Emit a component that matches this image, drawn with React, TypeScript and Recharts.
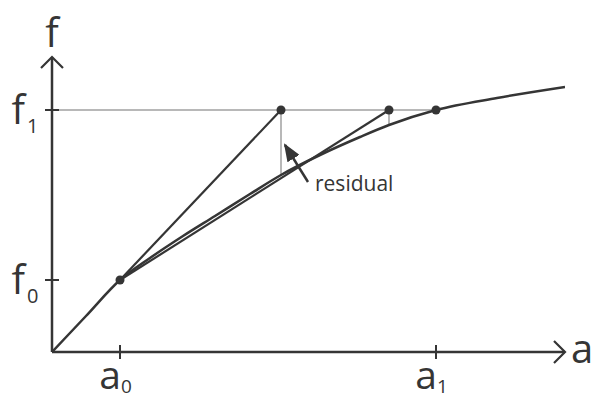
import {
  ComposedChart,
  Line,
  ReferenceDot,
  ReferenceLine,
  Scatter,
  XAxis,
  YAxis,
} from "recharts";

// arbitrary units: a runs 0..5.13, f runs 0..2.95
const X_MAX = 5.13;
const Y_MAX = 2.95;

const a0 = 0.68;
const a1 = 3.84;
const f0 = 0.72;
const f1 = 2.42;

const xTicks = [a0, a1];
const xTickSubs = ["0", "1"];
const yTicks = [f0, f1];
const yTickSubs = ["0", "1"];

const curveA = [0, 0.34, 0.68, 0.98, 1.31, 1.63, 1.98, 2.29, 2.68, 3.08, 3.37, 3.84, 4.45, 5.13];
const curveF = [0, 0.36, 0.72, 0.94, 1.16, 1.36, 1.58, 1.77, 1.97, 2.15, 2.27, 2.42, 2.54, 2.65];

// two secants from (a0, f0) up to the f1 level
const secantEnds = [2.29, 3.37];
const dotsA = [a0, 2.29, 3.37, a1];
const dotsF = [f0, f1, f1, f1];

// residual arrow: tail then tip
const residualTail = { x: 2.56, y: 1.7 };
const residualTip = { x: 2.33, y: 2.07 };
const residualText = { x: 2.63, y: 1.61, label: "residual" };

const curve = curveA.map((a, i) => ({ x: a, y: curveF[i] }));
const dots = dotsA.map((a, i) => ({ x: a, y: dotsF[i] }));
const secants = secantEnds.map((e) => [
  { x: a0, y: f0 },
  { x: e, y: f1 },
]);

const INK = "#353535";
const GRAY = "#b8b8b8";
const FONT = "'Open Sans', sans-serif";

function XTick({ x, y, payload }: any) {
  const i = xTicks.indexOf(payload.value);
  return (
    <g>
      <line x1={x} y1={y - 7} x2={x} y2={y + 7} stroke={INK} strokeWidth={2} />
      <text x={x + 1} y={y + 37} textAnchor="end" fontSize={39} fill={INK} fontFamily={FONT}>
        a
      </text>
      <text x={x + 1} y={y + 41} fontSize={19} fill={INK} fontFamily={FONT}>
        {xTickSubs[i]}
      </text>
    </g>
  );
}

function YTick({ x, y, payload }: any) {
  const i = yTicks.indexOf(payload.value);
  return (
    <g>
      <line x1={x - 7} y1={y} x2={x + 7} y2={y} stroke={INK} strokeWidth={2} />
      <text x={x - 27} y={y + 14} textAnchor="end" fontSize={40} fill={INK} fontFamily={FONT}>
        f
      </text>
      <text x={x - 25} y={y + 23} fontSize={20} fill={INK} fontFamily={FONT}>
        {yTickSubs[i]}
      </text>
    </g>
  );
}

const textAt =
  (text: string, dx: number, dy: number, anchor: string, size: number) =>
  ({ viewBox }: any) => (
    <text
      x={viewBox.x + viewBox.width / 2 + dx}
      y={viewBox.y + viewBox.height / 2 + dy}
      textAnchor={anchor}
      fontSize={size}
      fill={INK}
      fontFamily={FONT}
    >
      {text}
    </text>
  );

export default function App() {
  return (
    <div style={{ position: "absolute", left: 0, top: 0, width: 592, height: 399, background: "#fff" }}>
      <ComposedChart
        width={592}
        height={399}
        margin={{ top: 57, right: 27, bottom: 46, left: 51 }}
      >
        <defs>
          <marker
            id="axisArrow"
            viewBox="0 0 14 24"
            refX={12}
            refY={12}
            markerWidth={14}
            markerHeight={24}
            markerUnits="userSpaceOnUse"
            orient="auto-start-reverse"
          >
            <path d="M1,1 L12,12 L1,23" fill="none" stroke={INK} strokeWidth={2.2} />
          </marker>
          <marker
            id="headFill"
            viewBox="0 0 18 14"
            refX={16}
            refY={7}
            markerWidth={18}
            markerHeight={14}
            markerUnits="userSpaceOnUse"
            orient="auto"
          >
            <path d="M0,0 L18,7 L0,14 Z" fill={INK} />
          </marker>
        </defs>
        <XAxis
          type="number"
          dataKey="x"
          domain={[0, X_MAX]}
          ticks={xTicks}
          tick={<XTick />}
          tickLine={false}
          tickSize={0}
          tickMargin={0}
          height={1}
          allowDataOverflow
          axisLine={{ stroke: INK, strokeWidth: 2.5, markerEnd: "url(#axisArrow)" }}
        />
        <YAxis
          type="number"
          dataKey="y"
          domain={[0, Y_MAX]}
          ticks={yTicks}
          tick={<YTick />}
          tickLine={false}
          tickSize={0}
          tickMargin={0}
          width={1}
          allowDataOverflow
          axisLine={{ stroke: INK, strokeWidth: 2.5, markerStart: "url(#axisArrow)" }}
        />
        <ReferenceLine
          segment={[
            { x: 0, y: f1 },
            { x: a1, y: f1 },
          ]}
          stroke={GRAY}
          strokeWidth={2}
        />
        <ReferenceLine
          segment={[
            { x: secantEnds[0], y: f1 },
            { x: secantEnds[0], y: curveF[7] },
          ]}
          stroke={GRAY}
          strokeWidth={2}
        />
        <ReferenceLine
          segment={[
            { x: secantEnds[1], y: f1 },
            { x: secantEnds[1], y: curveF[10] },
          ]}
          stroke={GRAY}
          strokeWidth={2}
        />
        <Line
          data={curve}
          dataKey="y"
          type="monotone"
          stroke={INK}
          strokeWidth={2.5}
          dot={false}
          isAnimationActive={false}
        />
        {secants.map((s, i) => (
          <Line
            key={i}
            data={s}
            dataKey="y"
            type="linear"
            stroke={INK}
            strokeWidth={2.2}
            dot={false}
            isAnimationActive={false}
          />
        ))}
        <Scatter data={dots} fill={INK} shape={(p: any) => <circle cx={p.cx} cy={p.cy} r={4.5} fill={INK} />} isAnimationActive={false} />
        <ReferenceLine
          segment={[residualTail, residualTip]}
          stroke={INK}
          strokeWidth={2.5}
          markerEnd="url(#headFill)"
        />
        <ReferenceDot
          x={residualText.x}
          y={residualText.y}
          r={0}
          fillOpacity={0}
          strokeOpacity={0}
          label={{ content: textAt(residualText.label, 0, 0, "start", 21) }}
        />
        <ReferenceDot
          x={0}
          y={Y_MAX}
          r={0}
          fillOpacity={0}
          strokeOpacity={0}
          label={{ content: textAt("f", 0, -10, "middle", 40) }}
        />
        <ReferenceDot
          x={X_MAX}
          y={0}
          r={0}
          fillOpacity={0}
          strokeOpacity={0}
          label={{ content: textAt("a", 6, 11, "start", 40) }}
        />
      </ComposedChart>
    </div>
  );
}
